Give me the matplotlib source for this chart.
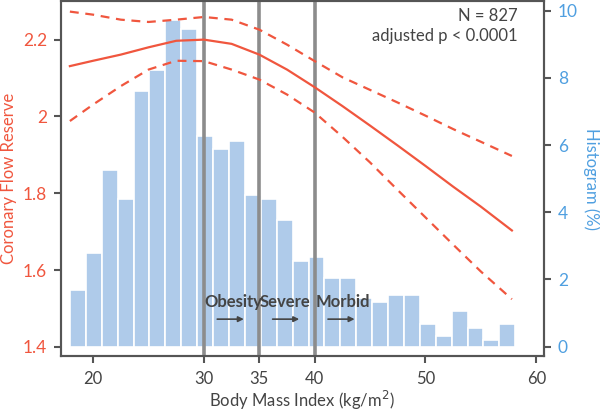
import matplotlib
matplotlib.use("Agg")
import matplotlib.pyplot as plt
import numpy as np

# histogram of BMI (percent of patients per bin)
bin_start = 17.9
bin_width = 1.436
hist_pct = [1.68, 2.79, 5.27, 4.39, 7.61, 8.22, 9.71, 9.46, 6.27, 5.88,
            6.12, 4.52, 4.39, 3.78, 2.54, 2.67, 2.05, 2.05, 1.45, 1.32,
            1.55, 1.55, 0.68, 0.33, 1.07, 0.57, 0.21, 0.68]

# spline fit of coronary flow reserve vs BMI, with 95% CI
bmi = [17.9, 20, 22.5, 25, 27.5, 30, 32.5, 35, 37.5, 40, 42.5, 45,
       47.5, 50, 52.5, 55, 57.8]
cfr = [2.131, 2.145, 2.161, 2.180, 2.197, 2.200, 2.189, 2.161, 2.122, 2.076,
       2.027, 1.976, 1.924, 1.871, 1.817, 1.765, 1.703]
cfr_hi = [2.273, 2.265, 2.252, 2.246, 2.252, 2.259, 2.252, 2.226, 2.187, 2.144,
          2.102, 2.069, 2.036, 2.002, 1.967, 1.934, 1.897]
cfr_lo = [1.988, 2.031, 2.079, 2.122, 2.145, 2.144, 2.122, 2.096, 2.057, 2.010,
          1.947, 1.880, 1.808, 1.737, 1.666, 1.596, 1.524]

cutoffs = [30, 35, 40]
cutoff_labels = ["Obesity", "Severe", "Morbid"]

RED = "#F0563E"
BLUE = "#4F9FE0"
BAR = "#AFCBEA"
GRID_GRAY = "#8C8C8C"
DARK = "#444444"

plt.rcParams['font.family'] = ['Lato', 'DejaVu Sans']

fig = plt.figure(figsize=(6.0, 4.13), dpi=100)
ax = fig.add_axes([0.1017, 0.138, 0.805, 0.859])
ax2 = ax.twinx()

# histogram on secondary axis, drawn behind the curves
edges = bin_start + bin_width * np.arange(len(hist_pct))
ax2.bar(edges, hist_pct, width=bin_width, align="edge", color=BAR,
        edgecolor="white", linewidth=1.2, zorder=1)
ax2.set_ylim(-0.276, 10.276)
ax2.set_yticks([0, 2, 4, 6, 8, 10])

ax.set_zorder(ax2.get_zorder() + 1)
ax.patch.set_visible(False)

for c in cutoffs:
    ax.axvline(c, color=GRID_GRAY, linewidth=2.6, zorder=2)

ax.plot(bmi, cfr, color=RED, linewidth=1.6, zorder=3)
ax.plot(bmi, cfr_hi, color=RED, linewidth=1.6, dashes=(4, 3), zorder=3)
ax.plot(bmi, cfr_lo, color=RED, linewidth=1.6, dashes=(4, 3), zorder=3)

for c, lab in zip(cutoffs, cutoff_labels):
    ax.text(c + 0.05, 1.517, lab, fontsize=12, fontweight="bold",
            color=DARK, ha="left", va="center", zorder=4)
    ax.annotate("", xy=(c + 3.6, 1.472), xytext=(c + 1.2, 1.472),
                arrowprops=dict(arrowstyle="-|>", color=DARK, lw=1.2,
                                mutation_scale=8, shrinkA=0, shrinkB=0),
                zorder=4)

ax.set_xlim(17.1, 60.7)
ax.set_ylim(1.376, 2.3)
ax.set_xticks([20, 30, 35, 40, 50, 60])
ax.set_yticks([1.4, 1.6, 1.8, 2.0, 2.2])
ax.set_yticklabels(["1.4", "1.6", "1.8", "2", "2.2"])

ax.text(0.945, 0.98, "N = 827\nadjusted p < 0.0001", transform=ax.transAxes,
        ha="right", va="top", fontsize=12, color=DARK, linespacing=1.3)

for a in (ax, ax2):
    for s in a.spines.values():
        s.set_color("#555555")
        s.set_linewidth(1.5)

ax.tick_params(axis="x", colors="#555555", labelcolor=DARK, labelsize=12,
               length=5, width=1.5, pad=6)
ax.tick_params(axis="y", colors="#555555", labelcolor=RED, labelsize=12.5,
               length=5, width=1.5, pad=5)
ax2.tick_params(axis="y", colors="#555555", labelcolor=BLUE, labelsize=12.5,
                length=5, width=1.5, pad=5)

ax.set_xlabel("Body Mass Index (kg/m$^2$)", fontsize=12, color=DARK,
              va="center")
ax.xaxis.set_label_coords(0.499, -0.125)
ax.set_ylabel("Coronary Flow Reserve", fontsize=12, color=RED, va="center")
ax.yaxis.set_label_coords(-0.108, 0.5)
ax2.set_ylabel("Histogram (%)", fontsize=12, color=BLUE, rotation=270,
               va="center")
ax2.yaxis.set_label_coords(1.097, 0.5)

fig.savefig("out.png", dpi=100)
